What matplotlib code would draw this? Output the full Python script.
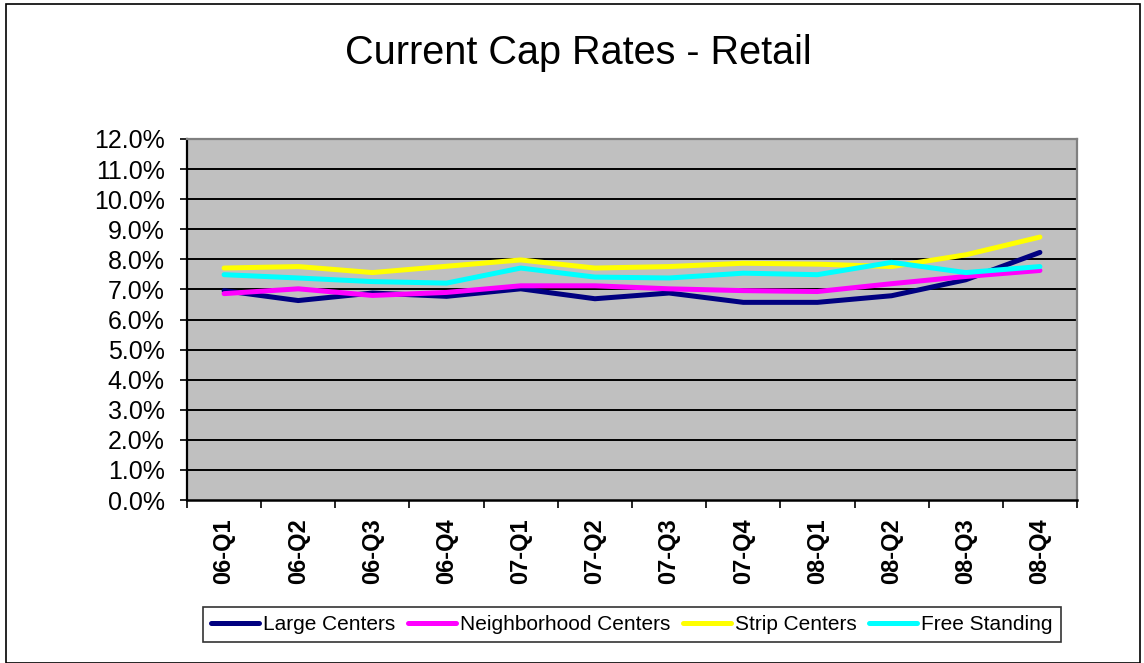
import matplotlib
matplotlib.use("Agg")
import matplotlib.pyplot as plt
from matplotlib.patches import Rectangle
from matplotlib.ticker import FixedLocator, PercentFormatter

plt.rcParams['font.family'] = ['Liberation Sans', 'DejaVu Sans']

quarters = ['06-Q1', '06-Q2', '06-Q3', '06-Q4', '07-Q1', '07-Q2',
            '07-Q3', '07-Q4', '08-Q1', '08-Q2', '08-Q3', '08-Q4']

# cap rates in percent
large_centers = [6.96, 6.63, 6.88, 6.77, 7.02, 6.69, 6.88, 6.57, 6.57, 6.79, 7.32, 8.23]
neighborhood_centers = [6.86, 7.02, 6.80, 6.90, 7.12, 7.12, 7.02, 6.96, 6.93, 7.19, 7.43, 7.63]
strip_centers = [7.71, 7.76, 7.56, 7.77, 7.98, 7.71, 7.76, 7.87, 7.84, 7.76, 8.15, 8.74]
free_standing = [7.49, 7.38, 7.26, 7.21, 7.71, 7.41, 7.38, 7.54, 7.49, 7.90, 7.56, 7.76]

series = [
    ('Large Centers', large_centers, '#000080'),
    ('Neighborhood Centers', neighborhood_centers, '#FF00FF'),
    ('Strip Centers', strip_centers, '#FFFF00'),
    ('Free Standing', free_standing, '#00FFFF'),
]

W, H = 1144, 663
fig = plt.figure(figsize=(W / 100, H / 100), dpi=100)
fig.patch.set_facecolor('white')

# chart border
fig.patches.append(Rectangle((6 / W, 0), (1140 - 6) / W, 1 - 4 / H,
                             transform=fig.transFigure, fill=False,
                             edgecolor='black', linewidth=1.2))

ax = fig.add_axes([187 / W, 1 - 500 / H, (1077 - 187) / W, (500 - 139) / H])
ax.set_facecolor('#C0C0C0')

x = list(range(len(quarters)))
for name, vals, color in series:
    ax.plot(x, vals, color=color, linewidth=3.6, label=name,
            solid_capstyle='round', solid_joinstyle='round', zorder=3)

ax.set_xlim(-0.5, len(quarters) - 0.5)
ax.set_ylim(0, 12)

ax.set_yticks([i for i in range(13)])
ax.yaxis.set_major_formatter(PercentFormatter(decimals=1))
ax.tick_params(axis='y', direction='out', length=5, width=1.2, labelsize=18, pad=11)
for i in range(1, 12):
    ax.axhline(i, color='black', linewidth=1.4, zorder=1)

ax.set_xticks(x)
ax.set_xticklabels(quarters, rotation=90, fontweight='bold', fontsize=17)
ax.tick_params(axis='x', which='major', length=0, pad=13.5)
ax.xaxis.set_minor_locator(FixedLocator([i - 0.5 for i in range(len(quarters) + 1)]))
ax.tick_params(axis='x', which='minor', direction='out', length=6, width=1.2)

ax.spines['left'].set_color('black')
ax.spines['left'].set_linewidth(1.6)
ax.spines['bottom'].set_color('black')
ax.spines['bottom'].set_linewidth(1.8)
ax.spines['top'].set_color('#808080')
ax.spines['top'].set_linewidth(1.6)
ax.spines['right'].set_color('#808080')
ax.spines['right'].set_linewidth(1.6)

fig.text(578 / W, 1 - 53 / H, 'Current Cap Rates - Retail',
         ha='center', va='center', fontsize=28.5)

leg = fig.legend(loc='center', bbox_to_anchor=(632 / W, 1 - 624.5 / H), ncol=4,
                 fontsize=15, frameon=True, fancybox=False, edgecolor='black',
                 handlelength=2.3, handletextpad=0.2, columnspacing=0.6,
                 borderpad=0.4, borderaxespad=0)
leg.get_frame().set_linewidth(1.2)
for line in leg.get_lines():
    line.set_linewidth(3.6)

fig.savefig('out.png', dpi=100, facecolor='white')
